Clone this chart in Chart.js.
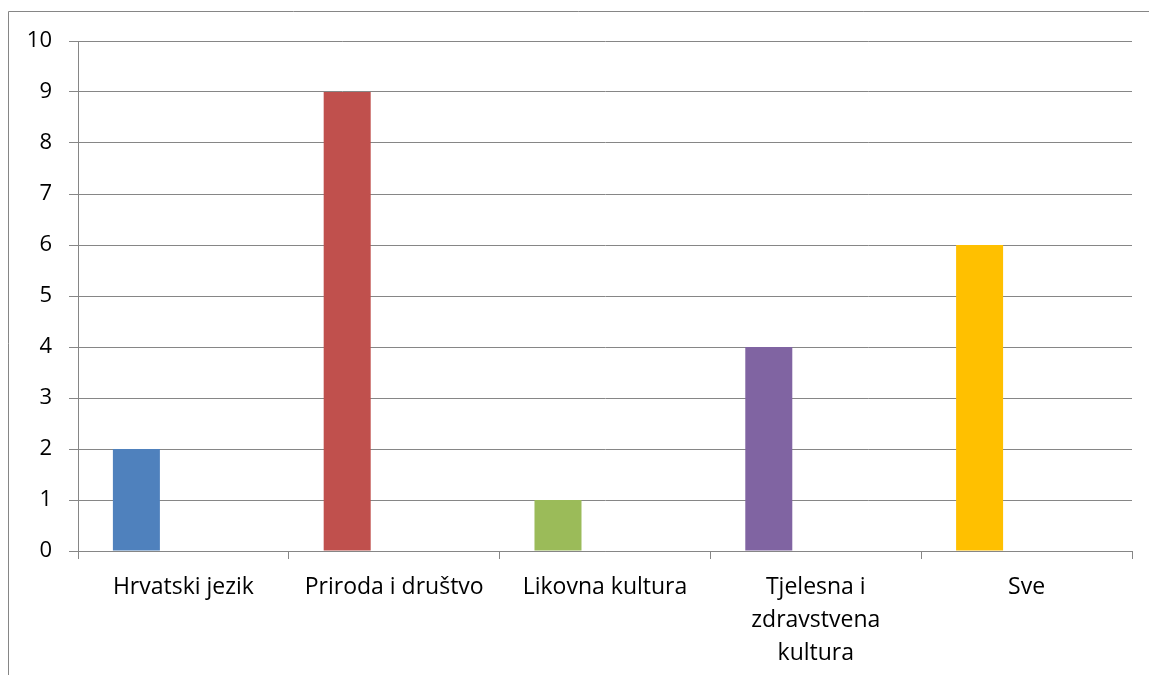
<!DOCTYPE html>
<html>
<head>
<meta charset="utf-8">
<script src="https://cdn.jsdelivr.net/npm/chart.js@4/dist/chart.umd.min.js"></script>
<style>
    html, body { margin: 0; padding: 0; background: #fff; }
    #wrap { position: relative; width: 1149px; height: 675px; }
</style>
</head>
<body>
<div id="wrap"><canvas id="chart" width="1149" height="675"></canvas></div>
<script>
// --- Datos ---
const categorias = ['Hrvatski jezik', 'Priroda i društvo', 'Likovna kultura', ['Tjelesna i', 'zdravstvena', 'kultura'], 'Sve'];
const valores = [2, 9, 1, 4, 6];
const colores = ['#4F81BD', '#C0504D', '#9BBB59', '#8064A2', '#FFC000'];
const vacio = [null, null, null, null, null]; // series sin datos (Excel deja el hueco)
const yMin = 0, yMax = 10, yPaso = 1;

const gris = '#868686';
const familia = '"Open Sans", sans-serif';

// marco del área del gráfico (borde arriba / izquierda)
const marco = {
    id: 'marco',
    beforeDraw(chart) {
        const c = chart.ctx;
        c.save();
        c.strokeStyle = gris;
        c.lineWidth = 1;
        c.beginPath();
        c.moveTo(8.5, chart.height);
        c.lineTo(8.5, 11.5);
        c.lineTo(chart.width, 11.5);
        c.stroke();
        c.restore();
    }
};

new Chart(document.getElementById('chart'), {
    type: 'bar',
    data: {
        labels: categorias,
        datasets: [
            { data: valores, backgroundColor: colores },
            { data: vacio },
            { data: vacio }
        ]
    },
    options: {
        responsive: false,
        animation: false,
        categoryPercentage: 0.669,
        barPercentage: 1,
        layout: { padding: { top: 41, right: 17, left: 0, bottom: 0 } },
        plugins: { legend: { display: false }, tooltip: { enabled: false } },
        scales: {
            x: {
                offset: true,
                grid: { offset: true, drawOnChartArea: false, drawTicks: true, tickLength: 8, color: gris },
                border: { display: true, color: gris },
                ticks: { color: '#000', font: { family: familia, size: 23, lineHeight: 1.43 }, padding: 12, maxRotation: 0, autoSkip: false },
                afterFit: (s) => { s.height = 124; }
            },
            y: {
                min: yMin, max: yMax,
                grid: { color: gris, tickLength: 9 },
                border: { display: true, color: gris },
                ticks: { stepSize: yPaso, color: '#000', font: { family: familia, size: 22 }, padding: 17 },
                afterFit: (s) => { s.width = 78; }
            }
        }
    },
    plugins: [marco]
});
</script>
</body>
</html>
